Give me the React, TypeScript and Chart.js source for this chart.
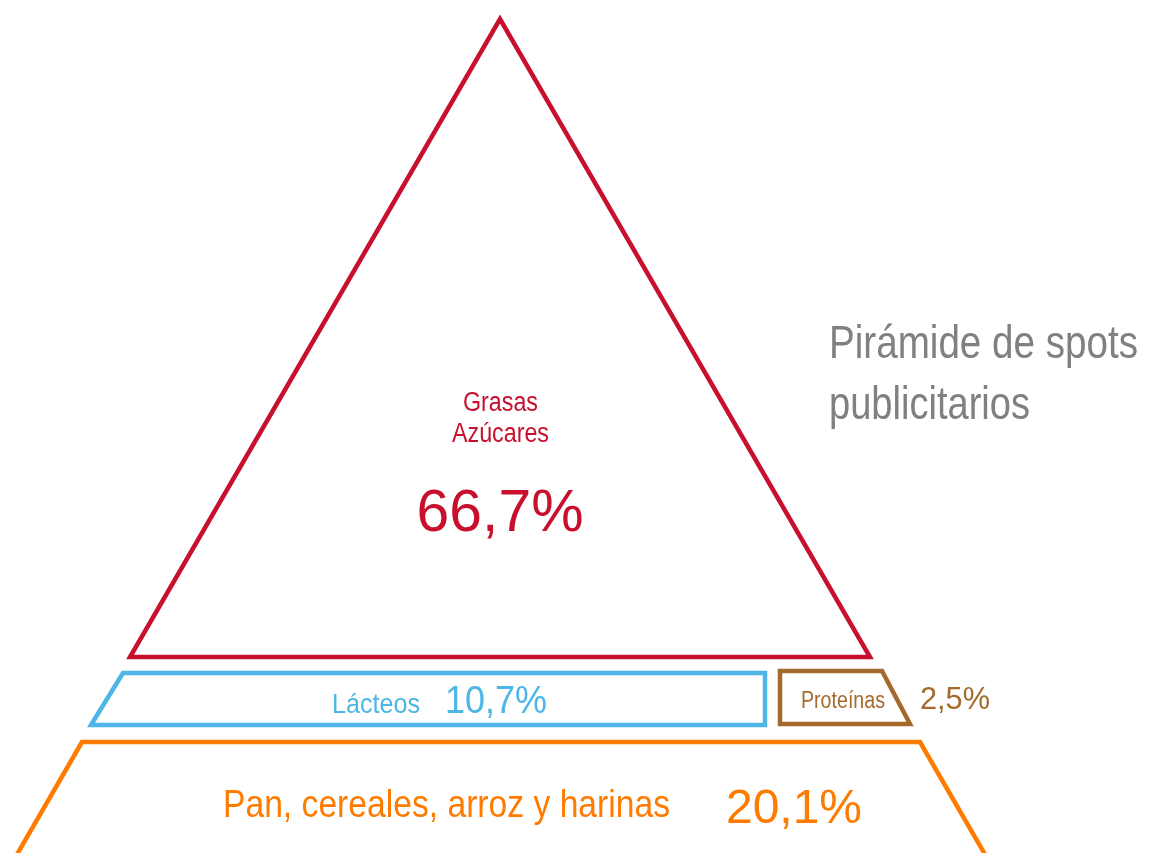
import React, { useEffect, useRef } from "react";
import { Chart, registerables } from "chart.js";

Chart.register(...registerables);

// ---- data ----
const categories = ["Grasas\nAzúcares", "Lácteos", "Proteínas", "Pan, cereales, arroz y harinas"];
const values = [66.7, 10.7, 2.5, 20.1];
const tierColors = ["#C8102E", "#4DB6E6", "#A36A2B", "#FF7B00"];
const titleLines = ["Pirámide de spots", "publicitarios"];

// ---- diagram geometry (in a 1150 x 853 drawing frame) ----
const tierOutlines: number[][][] = [
  [[130, 657], [870, 657], [500, 19]],
  [[91, 725], [123, 673], [765, 673], [765, 725]],
  [[780, 724], [780, 671], [882, 671], [910, 724]],
  [[8, 870], [82, 742], [920, 742], [994, 870]],
];

const fmt = (v: number) => v.toFixed(1).replace(".", ",") + "%";

const FONT = '"Liberation Sans", Arial, sans-serif';

type Lbl = { text: string; x: number; y: number; size: number; color: string; align: CanvasTextAlign; maxW: number };

const buildLabels = (): Lbl[] => {
  const [g, l, p, c] = categories;
  const gl = g.split("\n");
  return [
    { text: gl[0], x: 500.5, y: 411, size: 27, color: tierColors[0], align: "center", maxW: 75 },
    { text: gl[1], x: 500.5, y: 442, size: 27, color: tierColors[0], align: "center", maxW: 97 },
    { text: fmt(values[0]), x: 500, y: 531, size: 60, color: tierColors[0], align: "center", maxW: 167 },
    { text: l, x: 332, y: 713, size: 28, color: tierColors[1], align: "left", maxW: 88 },
    { text: fmt(values[1]), x: 445, y: 713, size: 38, color: tierColors[1], align: "left", maxW: 102 },
    { text: p, x: 801, y: 708, size: 23, color: tierColors[2], align: "left", maxW: 84 },
    { text: fmt(values[2]), x: 920, y: 709, size: 31, color: tierColors[2], align: "left", maxW: 70 },
    { text: c, x: 223, y: 817, size: 38, color: tierColors[3], align: "left", maxW: 447 },
    { text: fmt(values[3]), x: 726, y: 823, size: 48, color: tierColors[3], align: "left", maxW: 136 },
    { text: titleLines[0], x: 829, y: 358, size: 46, color: "#808080", align: "left", maxW: 309 },
    { text: titleLines[1], x: 829, y: 419, size: 46, color: "#808080", align: "left", maxW: 201 },
  ];
};

const labelPlugin = {
  id: "pyramidLabels",
  afterDatasetsDraw(chart: any) {
    const { ctx, scales } = chart;
    const xs = scales.x;
    const ys = scales.y;
    ctx.save();
    for (const lb of buildLabels()) {
      ctx.font = `${lb.size}px ${FONT}`;
      ctx.fillStyle = lb.color;
      ctx.textAlign = lb.align;
      ctx.textBaseline = "alphabetic";
      ctx.fillText(lb.text, xs.getPixelForValue(lb.x), ys.getPixelForValue(lb.y), lb.maxW);
    }
    ctx.restore();
  },
};

export default function App() {
  const ref = useRef<HTMLCanvasElement | null>(null);
  useEffect(() => {
    document.body.style.margin = "0";
    const canvas = ref.current!;
    const datasets = tierOutlines.map((pts, i) => {
      const closed = [...pts, pts[0], pts[1]];
      return {
        label: categories[i],
        data: closed.map(([x, y]) => ({ x, y })),
        showLine: true,
        borderColor: tierColors[i],
        borderWidth: 4.5,
        pointRadius: 0,
        pointHoverRadius: 0,
        fill: false,
        tension: 0,
        borderJoinStyle: "miter" as const,
        borderCapStyle: "butt" as const,
      };
    });
    const chart = new Chart(canvas, {
      type: "scatter",
      data: { datasets },
      options: {
        animation: false,
        responsive: false,
        maintainAspectRatio: false,
        layout: { padding: 0 },
        plugins: { legend: { display: false }, tooltip: { enabled: false } },
        scales: {
          x: { type: "linear", min: 0, max: 1150, display: false },
          y: { type: "linear", min: 0, max: 853, reverse: true, display: false },
        },
      },
      plugins: [labelPlugin],
    });
    return () => chart.destroy();
  }, []);
  return (
    <div style={{ width: 1150, height: 853, background: "#fff" }}>
      <canvas ref={ref} width={1150} height={853} style={{ display: "block" }} />
    </div>
  );
}
